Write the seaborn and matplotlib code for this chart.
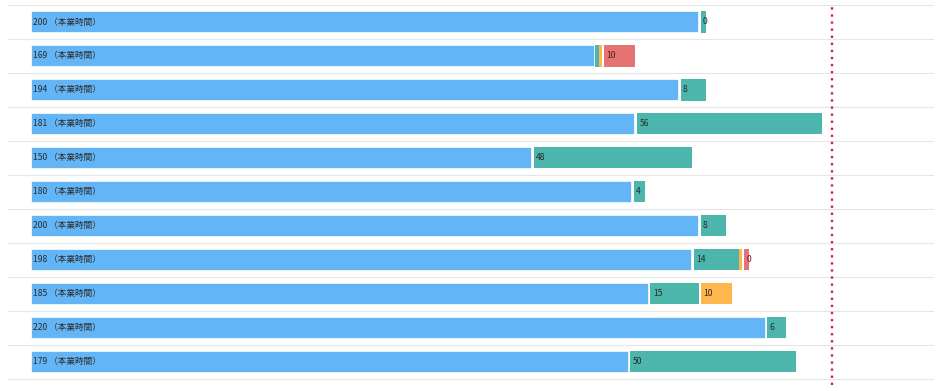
import matplotlib.pyplot as plt
import seaborn as sns
import numpy as np

# hours per row (top to bottom)
main_hours = [200, 169, 194, 181, 150, 180, 200, 198, 185, 220, 179]
green_hours = [2, 1, 8, 56, 48, 4, 8, 14, 15, 6, 50]
orange_hours = [0, 1, 0, 0, 0, 0, 0, 1, 10, 0, 0]
red_hours = [0, 10, 0, 0, 0, 0, 0, 2, 0, 0, 0]

green_labels = ["0", "", "8", "56", "48", "4", "8", "14", "15", "6", "50"]
orange_labels = ["", "", "", "", "", "", "", "", "10", "", ""]
red_labels = ["", "10", "", "", "", "", "", "0", "", "", ""]

limit_hours = 240

sns.set_theme(style="white")
plt.rcParams["font.family"] = ["Noto Sans CJK JP", "DejaVu Sans"]

fig = plt.figure(figsize=(9.4, 3.91), dpi=100)
ax = fig.add_axes([8 / 940, 6 / 391, 926 / 940, 380 / 391])

colors = {
    "main": "#64B5F6",
    "green": "#4DB6AC",
    "orange": "#FFB74D",
    "red": "#E57373",
}

y = np.arange(len(main_hours))
main = np.array(main_hours, dtype=float)
green = np.array(green_hours, dtype=float)
orange = np.array(orange_hours, dtype=float)
red = np.array(red_hours, dtype=float)

# small white gap in front of segments wide enough to show it
gap = 0.5
g_gap = np.where(green > 1.5, gap, 0)
o_gap = np.where(orange > 1.5, gap, 0)
r_gap = np.where(red > 1.5, gap, 0)

ax.barh(y, main, color=colors["main"], height=0.66, edgecolor="white", linewidth=1.2)
thin_kw = dict(height=0.62, linewidth=0)
ax.barh(y, green - g_gap, left=main + g_gap, color=colors["green"], **thin_kw)
ax.barh(y, orange - o_gap, left=main + green + o_gap, color=colors["orange"], **thin_kw)
ax.barh(y, red - r_gap, left=main + green + orange + r_gap, color=colors["red"], **thin_kw)

txt_kw = dict(va="center", ha="left", fontsize=6.2)
for i in range(len(main_hours)):
    ax.text(0.7, i, f"{main_hours[i]} （本業時間）", color="#2b2b2b", **txt_kw)
    if green_labels[i]:
        ax.text(main[i] + 1.2, i, green_labels[i], color="#2b2b2b", **txt_kw)
    if orange_labels[i]:
        ax.text(main[i] + green[i] + 1.2, i, orange_labels[i],
                color="#2b2b2b", **txt_kw)
    if red_labels[i]:
        ax.text(main[i] + green[i] + orange[i] + 1.2, i, red_labels[i],
                color="#5a1a1a", **txt_kw)

for k in range(-1, len(main_hours)):
    ax.axhline(k + 0.5, color="#e6e6e6", linewidth=0.8, zorder=0)

ax.axvline(limit_hours, color="#d81b60", linestyle=(0, (1, 2)), linewidth=1.7)

ax.set_xlim(-6.9, 270.4)
ax.set_ylim(10.68, -0.5)
ax.set_xticks([])
ax.set_yticks([])
for s in ax.spines.values():
    s.set_visible(False)

fig.savefig("out.png", dpi=100)
